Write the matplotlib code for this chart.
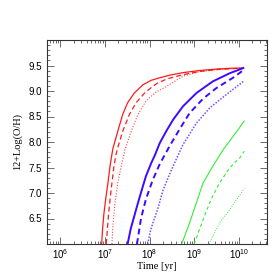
import numpy as np
import matplotlib
matplotlib.use("Agg")
import matplotlib.pyplot as plt
from matplotlib.ticker import LogLocator, MultipleLocator, FixedLocator, NullFormatter

# log10(t/yr) and 12+log(O/H)
red_solid_t = [6.93, 6.95, 6.98, 7.03, 7.07, 7.12, 7.18, 7.29, 7.40, 7.51, 7.66, 7.85, 8.04,
               8.19, 8.45, 8.75, 9.1, 9.5, 9.8, 10.1]
red_solid_z = [6.0, 6.3, 6.6, 6.95, 7.2, 7.55, 7.87, 8.21, 8.54, 8.77, 8.96, 9.12, 9.21,
               9.25, 9.31, 9.36, 9.40, 9.43, 9.445, 9.45]
red_dash_t = [7.03, 7.05, 7.08, 7.12, 7.16, 7.2, 7.25, 7.29, 7.40, 7.55, 7.70, 7.89, 8.07,
              8.19, 8.4, 8.75, 9.1, 9.5, 10.1]
red_dash_z = [6.0, 6.2, 6.55, 6.9, 7.2, 7.5, 7.75, 7.89, 8.21, 8.54, 8.77, 8.96, 9.09,
              9.16, 9.24, 9.32, 9.38, 9.42, 9.45]
red_dot_t = [7.16, 7.18, 7.22, 7.29, 7.36, 7.45, 7.50, 7.59, 7.74, 7.92, 8.0, 8.15, 8.38,
             8.75, 9.12, 9.5, 10.1]
red_dot_z = [6.0, 6.35, 6.75, 7.2, 7.5, 7.85, 7.98, 8.21, 8.54, 8.80, 8.87, 8.98, 9.09,
             9.29, 9.38, 9.42, 9.45]

blue_solid_t = [7.51, 7.58, 7.66, 7.74, 7.81, 7.92, 8.04, 8.12, 8.23, 8.38, 8.53, 8.75,
                9.05, 9.42, 9.80, 10.1]
blue_solid_z = [6.0, 6.3, 6.55, 6.8, 7.01, 7.33, 7.59, 7.74, 7.98, 8.22, 8.44, 8.70,
                8.96, 9.19, 9.35, 9.45]
blue_dash_t = [7.72, 7.81, 7.92, 8.07, 8.23, 8.45, 8.68, 8.90, 9.20, 9.50, 9.87, 10.12]
blue_dash_z = [6.0, 6.5, 6.88, 7.25, 7.57, 7.92, 8.26, 8.57, 8.85, 9.06, 9.26, 9.42]
blue_dot_t = [7.96, 8.02, 8.07, 8.19, 8.30, 8.45, 8.53, 8.75, 9.05, 9.35, 9.72, 10.12]
blue_dot_z = [6.0, 6.25, 6.4, 6.7, 7.05, 7.37, 7.53, 7.95, 8.37, 8.67, 8.93, 9.2]

green_solid_t = [8.72, 8.9, 9.05, 9.2, 9.42, 9.65, 9.98, 10.12]
green_solid_z = [6.0, 6.42, 6.81, 7.2, 7.53, 7.85, 8.24, 8.41]
green_dash_t = [9.0, 9.2, 9.38, 9.57, 9.8, 10.02, 10.12]
green_dash_z = [6.0, 6.48, 6.88, 7.2, 7.5, 7.69, 7.82]
green_dot_t = [9.33, 9.57, 9.8, 9.98, 10.12]
green_dot_z = [6.0, 6.42, 6.68, 6.91, 7.09]

red = "#ff1a1a"
blue = "#3d0aff"
green = "#33ee33"

fig = plt.figure(figsize=(2.74, 2.74), dpi=100)
ax = fig.add_axes([46.7 / 274, 30 / 274, 220 / 274, 204 / 274])

ax.plot(10 ** np.array(red_solid_t), red_solid_z, color=red, lw=0.9)
ax.plot(10 ** np.array(red_dash_t), red_dash_z, color=red, lw=0.9, ls=(0, (4, 2.5)))
ax.plot(10 ** np.array(red_dot_t), red_dot_z, color=red, lw=0.8, ls=(0, (1, 1.5)), alpha=0.8)

ax.plot(10 ** np.array(blue_solid_t), blue_solid_z, color=blue, lw=1.4)
ax.plot(10 ** np.array(blue_dash_t), blue_dash_z, color=blue, lw=1.4, ls=(0, (3, 2)))
ax.plot(10 ** np.array(blue_dot_t), blue_dot_z, color="#7a4dff", lw=1.1, ls=(0, (1, 1)))

ax.plot(10 ** np.array(green_solid_t), green_solid_z, color=green, lw=0.8)
ax.plot(10 ** np.array(green_dash_t), green_dash_z, color=green, lw=0.8, ls=(0, (3, 2.5)))
ax.plot(10 ** np.array(green_dot_t), green_dot_z, color=green, lw=0.7, ls=(0, (1, 1.5)))

ax.set_xscale("log")
ax.set_xlim(5e5, 4.2e10)
ax.set_ylim(6.0, 10.0)

ax.xaxis.set_major_locator(LogLocator(base=10, numticks=12))
ax.xaxis.set_minor_locator(LogLocator(base=10, subs=np.arange(2, 10), numticks=12))
ax.xaxis.set_minor_formatter(NullFormatter())
ax.yaxis.set_major_locator(FixedLocator([6.5, 7.0, 7.5, 8.0, 8.5, 9.0, 9.5]))
ax.yaxis.set_minor_locator(MultipleLocator(0.1))
ax.set_yticklabels(["6.5", "7.0", "7.5", "8.0", "8.5", "9.0", "9.5"])

ax.tick_params(which="both", direction="in", top=True, right=True, labelsize=7,
               width=0.6, color="#555555")
ax.tick_params(which="major", length=5)
ax.tick_params(which="minor", length=2.5)
ax.tick_params(axis="x", pad=2)
for lab in ax.get_xticklabels() + ax.get_yticklabels():
    lab.set_family("Liberation Sans")
for s in ax.spines.values():
    s.set_linewidth(0.8)
    s.set_color("#333333")

ax.set_xlabel("Time [yr]", family="Liberation Serif", fontsize=7.5, va="center")
ax.set_ylabel("12+Log(O/H)", family="Liberation Serif", fontsize=7.5, va="center")
ax.xaxis.set_label_coords(0.5, -0.11)
ax.yaxis.set_label_coords(-0.135, 0.5)

fig.savefig("out.png", dpi=100)
